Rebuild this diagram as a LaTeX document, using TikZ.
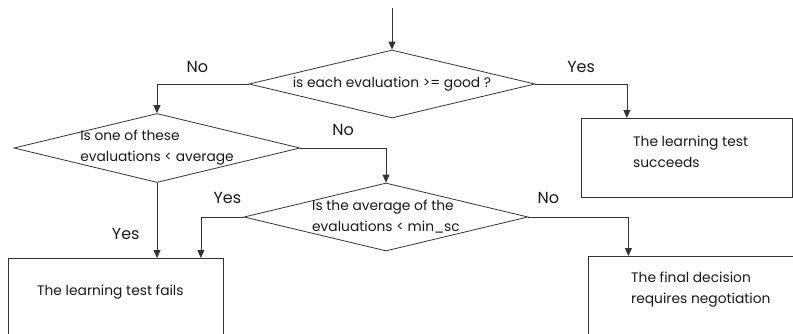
\documentclass[tikz,border=0pt]{standalone}
\usepackage{fontspec}
\setmainfont{Poppins}
\usetikzlibrary{shapes.geometric, arrows.meta, positioning}
\tikzset {
    flow/.style={draw=black!80, line width=0.8pt, -{Triangle[length=8pt, width=7pt]}},
    decision/.style={diamond, draw=black!80, line width=0.8pt, inner sep=0pt,
        minimum width=286pt, minimum height=68pt},
    block/.style={rectangle, draw=black!80, line width=0.8pt, inner sep=0pt, anchor=north west},
    note/.style={align=left, inner sep=0pt, text=black!90, font=\fontsize{13.8}{21}\selectfont},
    answer/.style={inner sep=0pt, text=black!90, font=\fontsize{16}{18}\selectfont}
}

\begin{document}
\begin{tikzpicture}[x=1pt, y=-1pt]
    \clip (0,0) rectangle (793,333);

    \coordinate (entry) at (392,8);
    \node[decision, label={[note]center:is each evaluation >= good ?}] (all) at (392,84) {};
    \node[decision, minimum height=69pt, label={[note]center:Is one of these\\evaluations < average}] (low) at (157,148) {};
    \node[decision, minimum width=284pt, label={[note]center:Is the average of the\\evaluations < min\_sc}] (avg) at (386,217) {};

    \node[block, minimum width=215pt, minimum height=150pt] (fail) at (8,258) {};
    \node[block, minimum width=211pt, minimum height=79pt] (succ) at (581,118) {};
    \node[block, minimum width=230pt, minimum height=150pt] (nego) at (588,256) {};

    % base of a two-line note is its last line
    \node[note, anchor=base west] (failtext) at ([xshift=29pt, yshift=-37pt]fail.north west) {The learning test fails};
    \node[note, anchor=base west] (succtext) at ([xshift=52pt, yshift=-49pt]succ.north west) {The learning test\\succeeds};
    \node[note, anchor=base west] (negotext) at ([xshift=43pt, yshift=-47pt]nego.north west) {The final decision\\requires negotiation};

    \draw[flow] (entry) -- (all.north);
    \draw[flow] (all.west) -| node[answer, pos=0.28, above=11pt]{No} (low.north);
    \draw[flow] (all.east) -| node[answer, pos=0.25, above=11pt]{Yes} ([xshift=-60pt]succ.north);
    \draw[flow] (low.east) -| node[answer, pos=0.25, above=12pt]{No} (avg.north);
    \draw[flow] (low.south) -- node[answer, pos=0.68, left=17pt]{Yes} (low.south |- fail.north);
    \draw[flow] (avg.west) -| node[answer, pos=0.19, above=13pt]{Yes} ([xshift=85pt]fail.north);
    \draw[flow] (avg.east) -| node[answer, pos=0.1, above=13pt]{No} ([xshift=-75pt]nego.north);
\end{tikzpicture}
\end{document}
